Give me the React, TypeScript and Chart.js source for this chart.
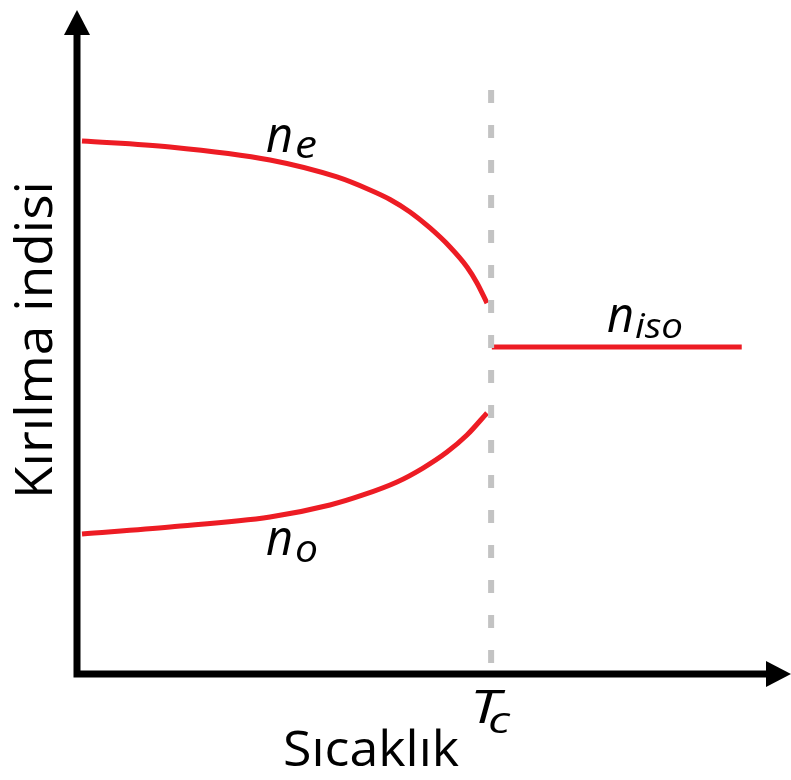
import React, { useEffect, useRef } from "react";
import { Chart, registerables } from "chart.js";

Chart.register(...registerables);

// Temperature (arbitrary units, axis 0..100) and refractive index (arbitrary units, axis 0..100)
const TC = 58;
const neTemp = [0.7, 13.03, 27.03, 36.41, 41.04, 43.84, 46.64, 49.44, 52.24, 54.62, 56.02, 57.42];
const neIndex = [80.27, 79.37, 77.41, 74.85, 72.89, 71.46, 69.58, 67.17, 64.31, 61.3, 58.89, 55.87];
const noTemp = [0.7, 13.03, 27.03, 35.43, 40.06, 44.82, 48.46, 51.82, 54.62, 57.42];
const noIndex = [21.08, 22.14, 23.64, 25.45, 26.96, 28.92, 31.02, 33.43, 35.99, 39.31];
const isoTemp = [58.1, 93.1];
const isoIndex = [49.25, 49.25];
const tcLineIndex = [87.95, 0];

const xTitle = "Sıcaklık";
const yTitle = "Kırılma indisi";

const RED = "#ed1c24";
const FONT = '"Open Sans", "Noto Sans", sans-serif';

function pts(xs: number[], ys: number[]) {
  return xs.map((x, i) => ({ x, y: ys[i] }));
}

function fitText(
  ctx: CanvasRenderingContext2D,
  text: string,
  x: number,
  y: number,
  font: string,
  width: number
) {
  ctx.save();
  ctx.font = font;
  ctx.textBaseline = "alphabetic";
  ctx.textAlign = "left";
  const w = ctx.measureText(text).width;
  const s = width / w;
  ctx.translate(x, y);
  ctx.scale(s, 1);
  ctx.fillText(text, 0, 0);
  ctx.restore();
}

const axesPlugin = {
  id: "arrowAxes",
  beforeDatasetsDraw(chart: any) {
    const ctx = chart.ctx as CanvasRenderingContext2D;
    const xs = chart.scales.x;
    const ys = chart.scales.y;
    const x0 = xs.getPixelForValue(0);
    const y0 = ys.getPixelForValue(0);
    const xTip = xs.getPixelForValue(100);
    const yTip = ys.getPixelForValue(100);
    const head = 25;
    const half = 13;
    ctx.save();
    ctx.strokeStyle = "#000";
    ctx.fillStyle = "#000";
    ctx.lineWidth = 7;
    ctx.lineJoin = "miter";
    ctx.lineCap = "butt";
    ctx.beginPath();
    ctx.moveTo(x0, yTip + head - 2);
    ctx.lineTo(x0, y0);
    ctx.lineTo(xTip - head + 2, y0);
    ctx.stroke();
    ctx.beginPath();
    ctx.moveTo(x0, yTip);
    ctx.lineTo(x0 - half, yTip + head);
    ctx.lineTo(x0 + half, yTip + head);
    ctx.closePath();
    ctx.fill();
    ctx.beginPath();
    ctx.moveTo(xTip, y0);
    ctx.lineTo(xTip - head, y0 - half);
    ctx.lineTo(xTip - head, y0 + half);
    ctx.closePath();
    ctx.fill();
    ctx.restore();
  },
  afterDraw(chart: any) {
    const ctx = chart.ctx as CanvasRenderingContext2D;
    ctx.save();
    ctx.fillStyle = "#000";
    const it = (px: number) => `italic 400 ${px}px ${FONT}`;
    // n_e
    fitText(ctx, "n", 266, 152, it(50), 27);
    fitText(ctx, "e", 295, 158, it(39), 22);
    // n_o
    fitText(ctx, "n", 266, 555, it(50), 27);
    fitText(ctx, "o", 295, 562, it(39), 23);
    // n_iso
    fitText(ctx, "n", 607, 332, it(50), 27);
    fitText(ctx, "iso", 635, 338, it(34), 48);
    // T_c
    fitText(ctx, "T", 470, 723, it(46), 30);
    fitText(ctx, "c", 488, 733, it(37), 22);
    // axis titles
    fitText(ctx, xTitle, 283, 766, `400 50px ${FONT}`, 176);
    ctx.save();
    ctx.translate(52, 499);
    ctx.rotate(-Math.PI / 2);
    fitText(ctx, yTitle, 0, 0, `400 52px ${FONT}`, 318);
    ctx.restore();
    ctx.restore();
  },
};

export default function App() {
  const ref = useRef<HTMLCanvasElement | null>(null);
  useEffect(() => {
    document.body.style.margin = "0";
    const canvas = ref.current!;
    const chart = new Chart(canvas, {
      type: "scatter",
      data: {
        datasets: [
          {
            label: "Tc",
            data: pts([TC, TC], tcLineIndex),
            showLine: true,
            borderColor: "#c3c3c3",
            borderWidth: 6,
            borderDash: [13, 22],
            pointRadius: 0,
            clip: false,
          } as any,
          {
            label: "ne",
            data: pts(neTemp, neIndex),
            showLine: true,
            borderColor: RED,
            borderWidth: 5,
            pointRadius: 0,
            cubicInterpolationMode: "monotone",
            clip: false,
          } as any,
          {
            label: "no",
            data: pts(noTemp, noIndex),
            showLine: true,
            borderColor: RED,
            borderWidth: 5,
            pointRadius: 0,
            cubicInterpolationMode: "monotone",
            clip: false,
          } as any,
          {
            label: "niso",
            data: pts(isoTemp, isoIndex),
            showLine: true,
            borderColor: RED,
            borderWidth: 5,
            pointRadius: 0,
            clip: false,
          } as any,
        ],
      },
      options: {
        responsive: false,
        animation: false,
        devicePixelRatio: 1,
        layout: { padding: { left: 77, right: 0, top: 10, bottom: 106 } },
        plugins: {
          legend: { display: false },
          tooltip: { enabled: false },
        },
        scales: {
          x: { type: "linear", min: 0, max: 100, display: false },
          y: { type: "linear", min: 0, max: 100, display: false },
        },
      },
      plugins: [axesPlugin],
    });
    return () => chart.destroy();
  }, []);
  return (
    <div style={{ position: "absolute", left: 0, top: 0, width: 791, height: 780, background: "#fff" }}>
      <canvas ref={ref} width={791} height={780} style={{ display: "block" }} />
    </div>
  );
}
